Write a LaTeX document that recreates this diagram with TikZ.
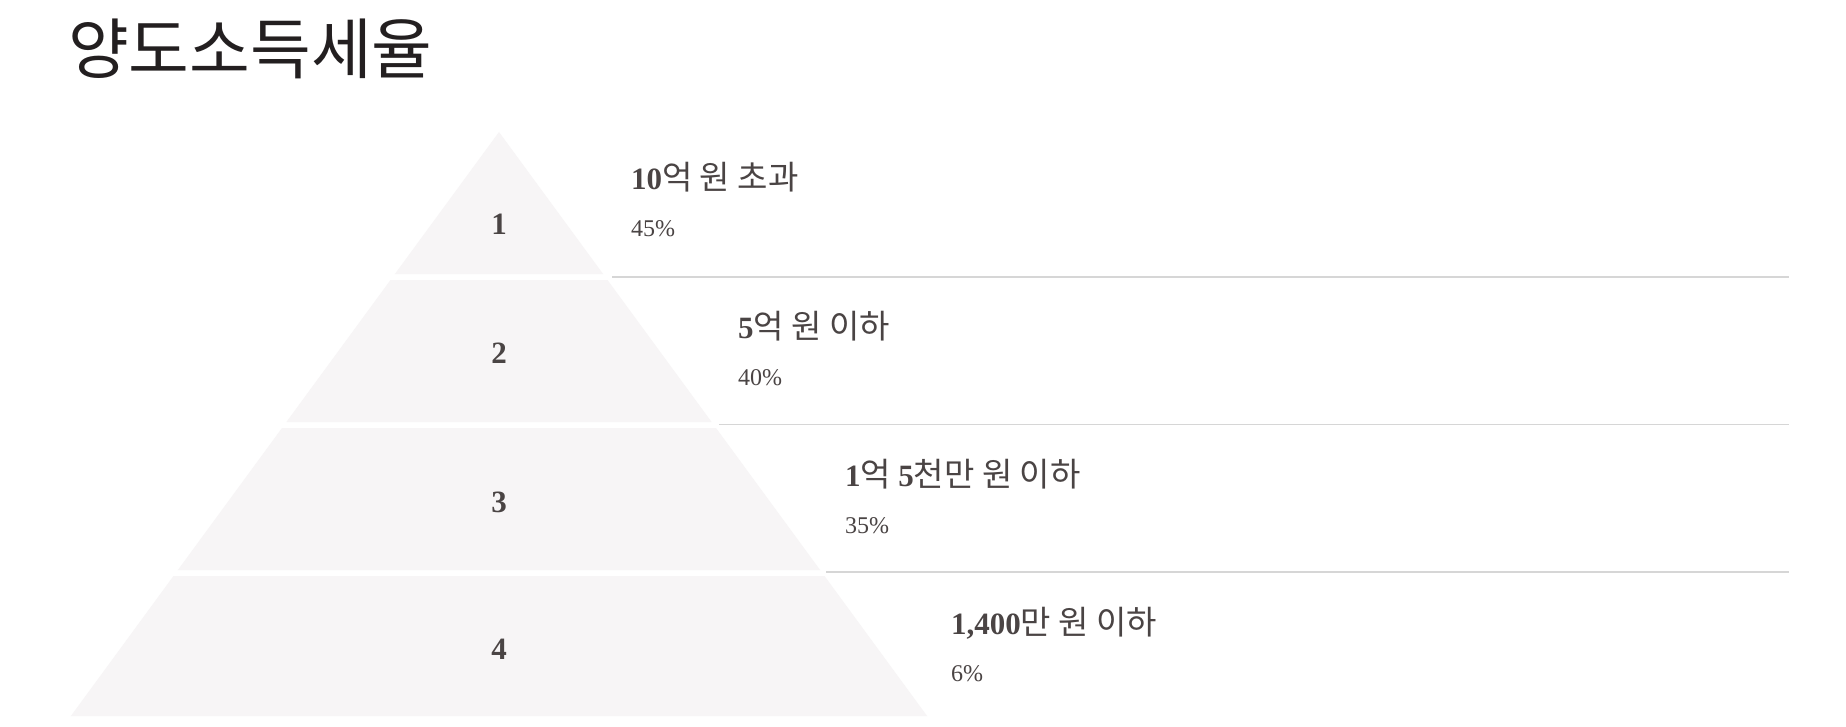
\documentclass[tikz,border=0pt]{standalone}
\usepackage{fontspec}
\setmainfont{Liberation Serif}
\newfontfamily\kr{Noto Sans CJK KR}
\definecolor{tierfill}{HTML}{F7F5F6}
\definecolor{rulegray}{HTML}{D6D6D6}
\definecolor{txt}{HTML}{4A4444}
\definecolor{titlecol}{HTML}{231F20}
\tikzset{
  tier/.style={fill=tierfill, draw=none},
  sep/.style={draw=rulegray, line width=1.6pt},
  tiernum/.style={inner sep=0pt, text=txt, font=\fontsize{31}{36}\selectfont\bfseries},
  lbl/.style={inner sep=0pt, anchor=base west, text=txt, font=\fontsize{30}{36}\selectfont},
  pct/.style={inner sep=0pt, anchor=base west, text=txt, font=\fontsize{24}{28}\selectfont},
}
\newcommand{\nb}[1]{{\bfseries\fontsize{31}{36}\selectfont #1}}
\newcommand{\kt}[1]{{\kr\fontsize{33}{36}\selectfont #1}}
\begin{document}
\begin{tikzpicture}[x=1pt,y=-1pt]
\useasboundingbox[fill=white] (0,0) rectangle (1846,727);
% title
\node[inner sep=0pt, anchor=base west, text=titlecol, font=\kr\fontsize{66}{76}\selectfont] (title) at (68,74) {양도소득세율};
% pyramid tiers
\fill[tier] (499,132) -- (603.1,274) -- (394.9,274) -- cycle;
\fill[tier] (390.5,280) -- (607.5,280) -- (711.6,422) -- (286.4,422) -- cycle;
\fill[tier] (282,428) -- (716,428) -- (820.1,570) -- (177.9,570) -- cycle;
\fill[tier] (173.5,576) -- (824.5,576) -- (927.1,716) -- (70.9,716) -- cycle;
% separators
\coordinate (s1a) at (612,277); \coordinate (s1b) at (1789,277);
\coordinate (s2a) at (719,424.5); \coordinate (s2b) at (1789,424.5);
\coordinate (s3a) at (826,572); \coordinate (s3b) at (1789,572);
\draw[sep] (s1a) -- (s1b);
\draw[sep] (s2a) -- (s2b);
\draw[sep] (s3a) -- (s3b);
% tier numbers
\node[tiernum] (n1) at (499,224) {1};
\node[tiernum] (n2) at (499,353) {2};
\node[tiernum] (n3) at (499,502) {3};
\node[tiernum] (n4) at (499,649) {4};
% labels
\node[lbl] (l1) at (631,190) {\nb{10}\kt{억 원 초과}};
\node[pct] (p1) at (631,237) {45\%};
\node[lbl] (l2) at (738,338) {\nb{5}\kt{억 원 이하}};
\node[pct] (p2) at (738,385) {40\%};
\node[lbl] (l3) at (845,486) {\nb{1}\kt{억 }\nb{5}\kt{천만 원 이하}};
\node[pct] (p3) at (845,533) {35\%};
\node[lbl] (l4) at (951,634) {\nb{1,400}\kt{만 원 이하}};
\node[pct] (p4) at (951,681) {6\%};
\end{tikzpicture}
\end{document}
